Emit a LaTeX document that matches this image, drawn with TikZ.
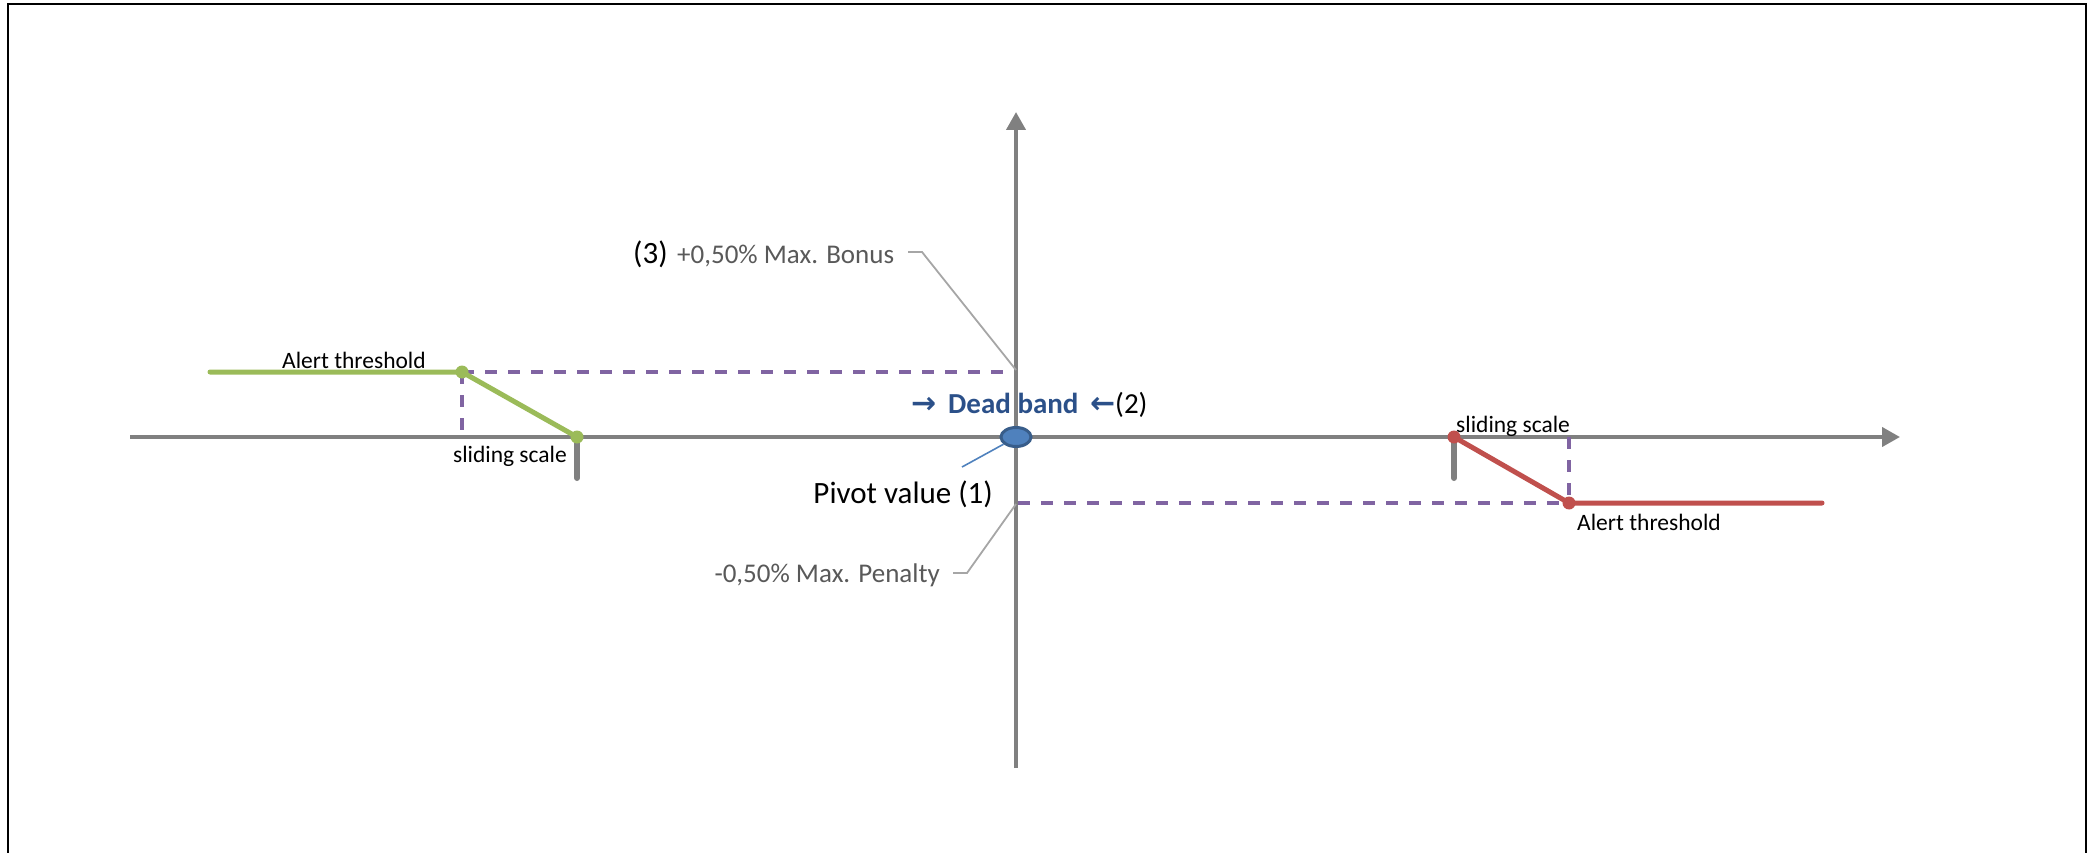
\documentclass[tikz,border=0pt]{standalone}
\usepackage{fontspec}
\setmainfont{Carlito}
\newfontfamily\arrowfont{DejaVu Sans}
\usetikzlibrary{arrows.meta,shapes.geometric}

\definecolor{axisgray}{HTML}{808080}
\definecolor{upgreen}{HTML}{9BBB59}
\definecolor{downred}{HTML}{C0504D}
\definecolor{guidepurple}{HTML}{8064A2}
\definecolor{pivotfill}{HTML}{4F81BD}
\definecolor{pivotedge}{HTML}{385D8A}
\definecolor{bandblue}{HTML}{2B5089}
\definecolor{leadergray}{HTML}{A6A6A6}
\definecolor{notegray}{HTML}{595959}

\tikzset{
  axisline/.style={draw=axisgray, line width=4pt,
    -{Triangle[length=18pt,width=19pt]}},
  tickmark/.style={draw=axisgray, line width=6pt, line cap=round},
  guide/.style={draw=guidepurple, line width=4pt, dash pattern=on 12pt off 11pt},
  curveline/.style={line width=5pt, line cap=round},
  leader/.style={draw=leadergray, line width=1.8pt},
  lbl/.style={inner sep=0pt, font=\fontsize{23.5pt}{28pt}\selectfont},
  note/.style={inner sep=0pt, text=notegray, font=\fontsize{27pt}{32pt}\selectfont},
  big/.style={inner sep=0pt, font=\fontsize{31pt}{36pt}\selectfont},
  bandarrow/.style={inner sep=0pt, text=bandblue, font=\arrowfont\bfseries\fontsize{30pt}{34pt}\selectfont},
}

\begin{document}
\begin{tikzpicture}[x=1pt, y=-1pt]
  \useasboundingbox (0,0) rectangle (2087,853);

  % outer frame
  \draw[line width=2.5pt] (8,853) -- (8,4) -- (2086,4) -- (2086,853);

  % key points of the bonus / penalty curves
  \coordinate (gA) at (210,372);
  \coordinate (gB) at (462,372);
  \coordinate (gC) at (577,437);
  \coordinate (rA) at (1454,437);
  \coordinate (rB) at (1569,503);
  \coordinate (rC) at (1822,503);
  \coordinate (xL) at (130,437);
  \coordinate (xR) at (1900,437);
  \coordinate (yB) at (1016,768);
  \coordinate (yT) at (1016,112);
  \coordinate (maxUp) at (1016,372);
  \coordinate (maxDn) at (1016,503);
  \coordinate (gFoot) at (462,437);
  \coordinate (rFoot) at (1569,437);

  % axes
  \draw[axisline] (xL) -- (xR);
  \draw[axisline] (yB) -- (yT);

  % ticks under the sliding-scale ends
  \draw[tickmark] (gC) -- ++(0,41);
  \draw[tickmark] (rA) -- ++(0,41);

  % max bonus / penalty guides
  \draw[guide] (gB) -- ([xshift=-4pt]maxUp);
  \draw[guide] (gB) -- (gFoot);
  \draw[guide] ([xshift=2pt]maxDn) -- (rB);
  \draw[guide] (rFoot) -- (rB);

  % bonus curve
  \draw[curveline, draw=upgreen] (gA) -- (gB) -- (gC);
  \fill[upgreen] (gB) circle[radius=6.5pt];
  \fill[upgreen] (gC) circle[radius=6.5pt];

  % penalty curve
  \draw[curveline, draw=downred] (rA) -- (rB) -- (rC);
  \fill[downred] (rA) circle[radius=6.5pt];
  \fill[downred] (rB) circle[radius=6.5pt];

  % pivot marker
  \node[ellipse, draw=pivotedge, fill=pivotfill, line width=3pt,
        minimum width=30pt, minimum height=19pt, inner sep=0pt] (pivot) at (1016,437) {};

  % labels along the curves
  \node[lbl, anchor=base west] (alertL) at (282,368) {Alert threshold};
  \node[lbl, anchor=base east] (slideL) at (567,462) {sliding scale};
  \node[lbl, anchor=base west] (slideR) at (1456,432) {sliding scale};
  \node[lbl, anchor=base west] (alertR) at (1577,530) {Alert threshold};

  % max bonus callout
  \node[big, anchor=base west] (n3) at (633,263) {(3)};
  \node[note, anchor=base west] (bonus) at (677,263) {+0,50\% Max. Bonus};
  \coordinate (bonusS) at (908,252);
  \coordinate (bonusK) at (922,252);
  \coordinate (bonusE) at (1016,370);
  \draw[leader] (bonusS) -- (bonusK) -- (bonusE);

  % max penalty callout
  \node[note, anchor=base east] (penalty) at (940,582) {-0,50\% Max. Penalty};
  \coordinate (penS) at (953,573);
  \coordinate (penK) at (967,573);
  \coordinate (penE) at (1016,504);
  \draw[leader] (penS) -- (penK) -- (penE);

  % pivot callout
  \node[big, anchor=base east] (pivlbl) at (993,503) {Pivot value (1)};
  \coordinate (pivK) at (962,467);
  \draw[draw=pivotfill, line width=1.6pt] (pivot.210) -- (pivK);

  % dead band
  \node[bandarrow, anchor=base west] (arrL) at (911,413) {→};
  \node[inner sep=0pt, anchor=base west, text=bandblue,
        font=\bfseries\fontsize{29pt}{34pt}\selectfont] (band) at (948,413) {Dead band};
  \node[bandarrow, anchor=base west] (arrR) at (1090,413) {←};
  \node[inner sep=0pt, anchor=base west,
        font=\fontsize{29pt}{34pt}\selectfont] (n2) at (1115,413) {(2)};
\end{tikzpicture}
\end{document}
